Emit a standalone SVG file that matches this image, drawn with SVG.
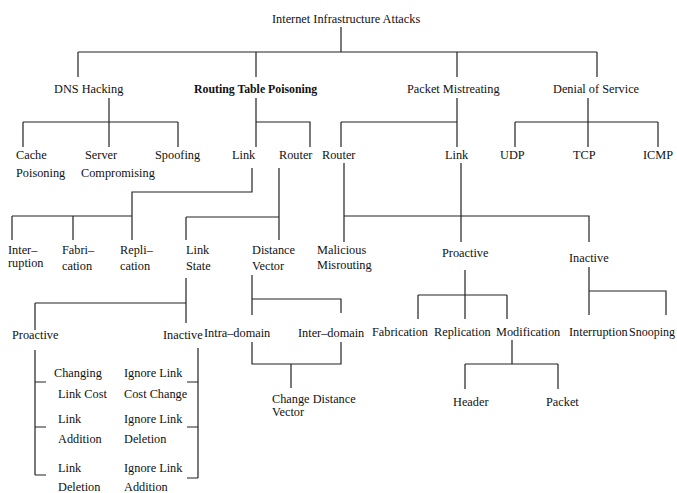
<svg xmlns="http://www.w3.org/2000/svg" width="677" height="493" viewBox="0 0 677 493">
<style>
text{font-family:"Liberation Serif","Times New Roman",serif;font-size:12.3px;fill:#111}
.b{font-weight:bold;font-size:11.8px}
#connectors path{fill:none;stroke:#222;stroke-width:1.2}
</style>
<rect width="677" height="493" fill="#fff"/>
<g id="connectors">
<path d="M341,27V52M78,52H597M78,52V77M256,52V77M457,52V77M597,52V77"/>
<path d="M109,98V122M23,122H178M23,122V147M109,122V147M178,122V147"/>
<path d="M256,98V147M256,122H310V147"/>
<path d="M457,98V147M341,122H457M341,122V147"/>
<path d="M588,98V122M515,122H658M515,122V147M588,122V147M658,122V147"/>
<path d="M252,168V192H132V240M12,216H132M12,216V240M73,216V240"/>
<path d="M279,168V240M186,217H279M186,217V240"/>
<path d="M344,163V242M461,163V242M344,216H589V242"/>
<path d="M186,278V323M35,303H186M35,303V330"/>
<path d="M252,275V315M252,299H341V313"/>
<path d="M465,270V319M418,295H507M418,295V319M507,295V319"/>
<path d="M589,267V315M589,291H666V315"/>
<path d="M35,350V475M35,382H46M35,427H46M35,475H46"/>
<path d="M198,348V478M187,382H198M187,427H198M187,478H198"/>
<path d="M252,342V364H341V342M291,364V388"/>
<path d="M512,340V364M465,364H558M465,364V389M558,364V389"/>
</g>
<g id="n-root"><text x="272" y="23">Internet Infrastructure Attacks</text></g>
<g id="n-dns"><text x="54" y="93">DNS Hacking</text></g>
<g id="n-rtp"><text class="b" x="194" y="93">Routing Table Poisoning</text></g>
<g id="n-pm"><text x="407" y="93">Packet Mistreating</text></g>
<g id="n-dos"><text x="553" y="93">Denial of Service</text></g>
<g id="n-cache"><text x="16" y="159">Cache</text><text x="16" y="177">Poisoning</text></g>
<g id="n-server"><text x="85" y="159">Server</text><text x="81" y="177">Compromising</text></g>
<g id="n-spoof"><text x="155" y="159">Spoofing</text></g>
<g id="n-rtp-link"><text x="232" y="159">Link</text></g>
<g id="n-rtp-router"><text x="279" y="159">Router</text></g>
<g id="n-pm-router"><text x="322" y="159">Router</text></g>
<g id="n-pm-link"><text x="445" y="159">Link</text></g>
<g id="n-udp"><text x="500" y="159">UDP</text></g>
<g id="n-tcp"><text x="573" y="159">TCP</text></g>
<g id="n-icmp"><text x="643" y="159">ICMP</text></g>
<g id="n-interruption1"><text x="8" y="254">Inter–</text><text x="8" y="267">ruption</text></g>
<g id="n-fabrication1"><text x="62" y="254">Fabri–</text><text x="62" y="270">cation</text></g>
<g id="n-replication1"><text x="120" y="254">Repli–</text><text x="120" y="270">cation</text></g>
<g id="n-linkstate"><text x="186" y="254">Link</text><text x="186" y="270">State</text></g>
<g id="n-dv"><text x="252" y="254">Distance</text><text x="252" y="270">Vector</text></g>
<g id="n-malicious"><text x="317" y="254">Malicious</text><text x="317" y="269">Misrouting</text></g>
<g id="n-pm-proactive"><text x="442" y="257">Proactive</text></g>
<g id="n-pm-inactive"><text x="569" y="262">Inactive</text></g>
<g id="n-ls-proactive"><text x="12" y="339">Proactive</text></g>
<g id="n-ls-inactive"><text x="163" y="339">Inactive</text></g>
<g id="n-intra"><text x="204" y="337">Intra–domain</text></g>
<g id="n-inter"><text x="298" y="337">Inter–domain</text></g>
<g id="n-fabrication2"><text x="372" y="336">Fabrication</text></g>
<g id="n-replication2"><text x="434" y="336">Replication</text></g>
<g id="n-modification"><text x="496" y="336">Modification</text></g>
<g id="n-interruption2"><text x="569" y="336">Interruption</text></g>
<g id="n-snooping"><text x="629" y="336" style="font-size:12px">Snooping</text></g>
<g id="n-changing"><text x="54" y="377">Changing</text><text x="58" y="398">Link Cost</text></g>
<g id="n-addition"><text x="58" y="423">Link</text><text x="58" y="443">Addition</text></g>
<g id="n-deletion"><text x="58" y="472">Link</text><text x="58" y="491">Deletion</text></g>
<g id="n-ignore-cost"><text x="124" y="377">Ignore Link</text><text x="124" y="398">Cost Change</text></g>
<g id="n-ignore-del"><text x="124" y="423">Ignore Link</text><text x="124" y="443">Deletion</text></g>
<g id="n-ignore-add"><text x="124" y="472">Ignore Link</text><text x="124" y="491">Addition</text></g>
<g id="n-cdv"><text x="272" y="403">Change Distance</text><text x="272" y="416">Vector</text></g>
<g id="n-header"><text x="453" y="406">Header</text></g>
<g id="n-packet"><text x="546" y="406">Packet</text></g>
</svg>
